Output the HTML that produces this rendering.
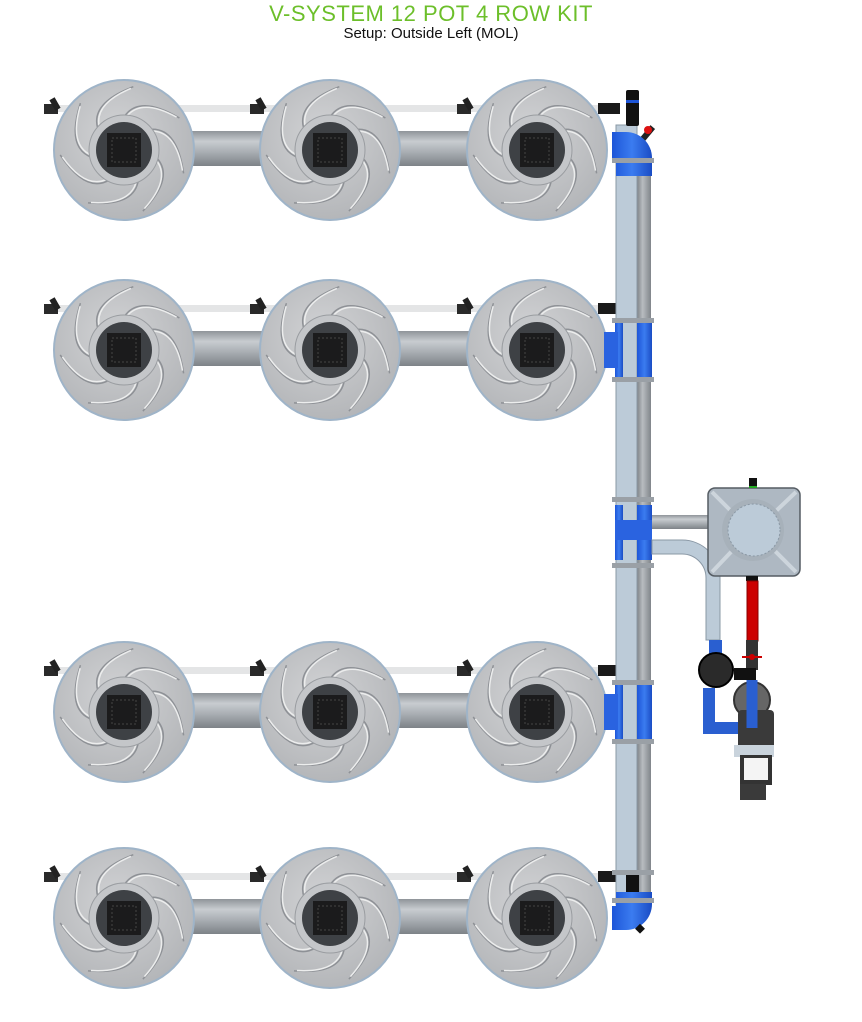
<!DOCTYPE html>
<html><head><meta charset="utf-8"><style>
html,body{margin:0;padding:0;background:#fff;width:862px;height:1022px;overflow:hidden}
.t{position:absolute;left:0;width:862px;text-align:center;font-family:"Liberation Sans",sans-serif}
</style></head><body>
<div class="t" style="top:1px;font-size:22px;color:#6cbf2a;letter-spacing:0.5px">V-SYSTEM 12 POT 4 ROW KIT</div>
<div class="t" style="top:25px;font-size:15px;color:#111">Setup: Outside Left (MOL)</div>
<svg id="s" width="862" height="1022" style="position:absolute;left:0;top:0" xmlns="http://www.w3.org/2000/svg">
<defs>
<linearGradient id="corr" x1="0" y1="0" x2="0" y2="1">
<stop offset="0" stop-color="#8f9499"/><stop offset="0.3" stop-color="#c8ccd0"/><stop offset="0.6" stop-color="#a9aeb3"/><stop offset="1" stop-color="#7d8287"/></linearGradient>
<linearGradient id="corrv" x1="0" y1="0" x2="1" y2="0">
<stop offset="0" stop-color="#7d8287"/><stop offset="0.4" stop-color="#b8bcc0"/><stop offset="1" stop-color="#80858a"/></linearGradient>
<radialGradient id="pot" cx="0.45" cy="0.4" r="0.6"><stop offset="0" stop-color="#d2d3d5"/><stop offset="1" stop-color="#b4b6b9"/></radialGradient>
<linearGradient id="blue" x1="0" y1="0" x2="1" y2="0"><stop offset="0" stop-color="#1d55d8"/><stop offset="0.5" stop-color="#3b7cf0"/><stop offset="1" stop-color="#1a4cc4"/></linearGradient>
</defs>
<g id="g"></g>
</svg>
<script>
var g=document.getElementById('g'),h='';
function add(s){h+=s;}
function P(x,y,r,a){a=a*Math.PI/180;return (x+r*Math.cos(a)).toFixed(1)+' '+(y+r*Math.sin(a)).toFixed(1);}
var xs=[124,330,537], ys=[150,350,712,918];
ys.forEach(function(y){
 add('<rect x="54" y="'+(y-45)+'" width="560" height="7" fill="#e4e5e6"/>');
 add('<rect x="185" y="'+(y-19)+'" width="90" height="35" fill="url(#corr)"/>');
 add('<rect x="392" y="'+(y-19)+'" width="90" height="35" fill="url(#corr)"/>');
 [50,256,463].forEach(function(x){add('<rect x="'+(x-6)+'" y="'+(y-46)+'" width="14" height="10" fill="#2a2a2a"/><rect x="'+(x+2)+'" y="'+(y-52)+'" width="6" height="12" fill="#222" transform="rotate(-30 '+(x+5)+' '+(y-46)+')"/>');});
 add('<rect x="598" y="'+(y-47)+'" width="22" height="11" fill="#1a1a1a"/>');
});
add('<rect x="637" y="150" width="14" height="750" fill="url(#corrv)"/>');
add('<rect x="616" y="125" width="21" height="780" fill="#bccbd8" stroke="#8a98a5" stroke-width="1"/>');
add('<rect x="626" y="90" width="13" height="36" fill="#111" rx="2"/><rect x="626" y="100" width="13" height="3" fill="#1d55d8"/>');
add('<rect x="626" y="870" width="13" height="30" fill="#111" rx="2"/>');
add('<rect x="644" y="125" width="6" height="18" fill="#222" transform="rotate(40 647 134)"/><circle cx="648" cy="130" r="4" fill="#d11"/>');
ys.forEach(function(y){xs.forEach(function(x){
 add('<circle cx="'+x+'" cy="'+y+'" r="70" fill="url(#pot)" stroke="#9fb4c8" stroke-width="2"/>');
 for(var i=0;i<7;i++){var a=i*51.4-90;
  add('<path d="M'+P(x,y,33,a)+' Q'+P(x,y,58,a+15)+' '+P(x,y,64,a+60)+'" fill="none" stroke="#8e9196" stroke-width="1.5"/>');
  add('<path d="M'+P(x,y,35,a+6)+' Q'+P(x,y,55,a+20)+' '+P(x,y,62,a+58)+'" fill="none" stroke="#eceded" stroke-width="1.5"/>');}
 add('<circle cx="'+x+'" cy="'+y+'" r="35" fill="#c4c6c9" stroke="#9a9da1"/>');
 add('<circle cx="'+x+'" cy="'+y+'" r="28" fill="#3e4145"/>');
 add('<rect x="'+(x-17)+'" y="'+(y-17)+'" width="34" height="34" fill="#1b1b1c"/><rect x="'+(x-12)+'" y="'+(y-12)+'" width="24" height="24" fill="none" stroke="#444" stroke-width="1" stroke-dasharray="2 2"/>');
});});
add('<path d="M612 132 h14 a26 26 0 0 1 26 26 v18 h-36 v-16 h-4 z" fill="url(#blue)"/>');
add('<path d="M612 930 h14 a26 26 0 0 0 26 -26 v-12 h-36 v14 h-4 z" fill="url(#blue)"/>');
add('<rect x="637" y="925" width="7" height="7" fill="#111" transform="rotate(45 640 928)"/>');
[350,712].forEach(function(y){
 add('<rect x="615" y="'+(y-27)+'" width="8" height="54" fill="url(#blue)"/><rect x="637" y="'+(y-27)+'" width="15" height="54" fill="url(#blue)"/><path d="M604 '+(y-18)+' h14 v36 h-14z" fill="#2a63e0"/>');
 add('<rect x="612" y="'+(y-32)+'" width="42" height="5" fill="#9aa0a6"/><rect x="612" y="'+(y+27)+'" width="42" height="5" fill="#9aa0a6"/>');
});
add('<rect x="615" y="505" width="8" height="55" fill="url(#blue)"/><rect x="637" y="505" width="15" height="55" fill="url(#blue)"/><rect x="615" y="520" width="37" height="20" fill="#2a63e0"/>');
[158,870,898].forEach(function(y){add('<rect x="612" y="'+y+'" width="42" height="5" fill="#9aa0a6"/>');});
add('<rect x="612" y="497" width="42" height="5" fill="#9aa0a6"/><rect x="612" y="563" width="42" height="5" fill="#9aa0a6"/>');
add('<rect x="652" y="515" width="60" height="14" fill="url(#corr)"/>');
add('<path d="M652 540 h30 a38 38 0 0 1 38 38 v62 h-14 v-62 a24 24 0 0 0 -24 -24 h-30 z" fill="#bccbd8" stroke="#8a98a5"/>');
add('<rect x="708" y="488" width="92" height="88" rx="7" fill="#aeb8c2" stroke="#555c63" stroke-width="1.5"/>');
add('<path d="M712 492 L750 530 M796 492 L756 530 M712 572 L750 532 M796 572 L756 532" stroke="#cdd5dc" stroke-width="4"/>');
add('<circle cx="753" cy="530" r="31" fill="#a7b1ba"/><circle cx="754" cy="530" r="26" fill="#bccbd8" stroke="#8a98a5" stroke-dasharray="2 2"/>');
add('<rect x="749" y="478" width="8" height="10" fill="#111"/><rect x="749" y="486" width="8" height="2" fill="#2a2"/>');
add('<rect x="746" y="576" width="12" height="5" fill="#111"/><rect x="747" y="581" width="11" height="60" fill="#cc0000" stroke="#800"/>');
add('<rect x="746" y="640" width="12" height="30" fill="#333"/><rect x="742" y="656" width="20" height="2" fill="#c00"/><circle cx="752" cy="657" r="3" fill="#c00"/>');
add('<rect x="709" y="640" width="13" height="20" fill="#2a5fd0"/><circle cx="716" cy="670" r="17" fill="#2a2a2a" stroke="#000" stroke-width="2"/>');
add('<path d="M709 688 v40 h35" fill="none" stroke="#2a5fd0" stroke-width="12"/>');
add('<rect x="734" y="668" width="22" height="12" fill="#111"/><circle cx="752" cy="700" r="18" fill="#666" stroke="#333" stroke-width="2"/>');
add('<rect x="738" y="710" width="36" height="40" rx="4" fill="#3a3a3a"/><path d="M752 680 v48" stroke="#2a5fd0" stroke-width="11" fill="none"/>');
add('<rect x="734" y="745" width="40" height="12" fill="#c9d3dc"/><rect x="740" y="755" width="32" height="30" fill="#333"/><rect x="744" y="758" width="24" height="22" fill="#f4f4f4"/><rect x="740" y="784" width="26" height="16" fill="#3a3a3a"/>');
g.innerHTML=h;
</script>
</body></html>
